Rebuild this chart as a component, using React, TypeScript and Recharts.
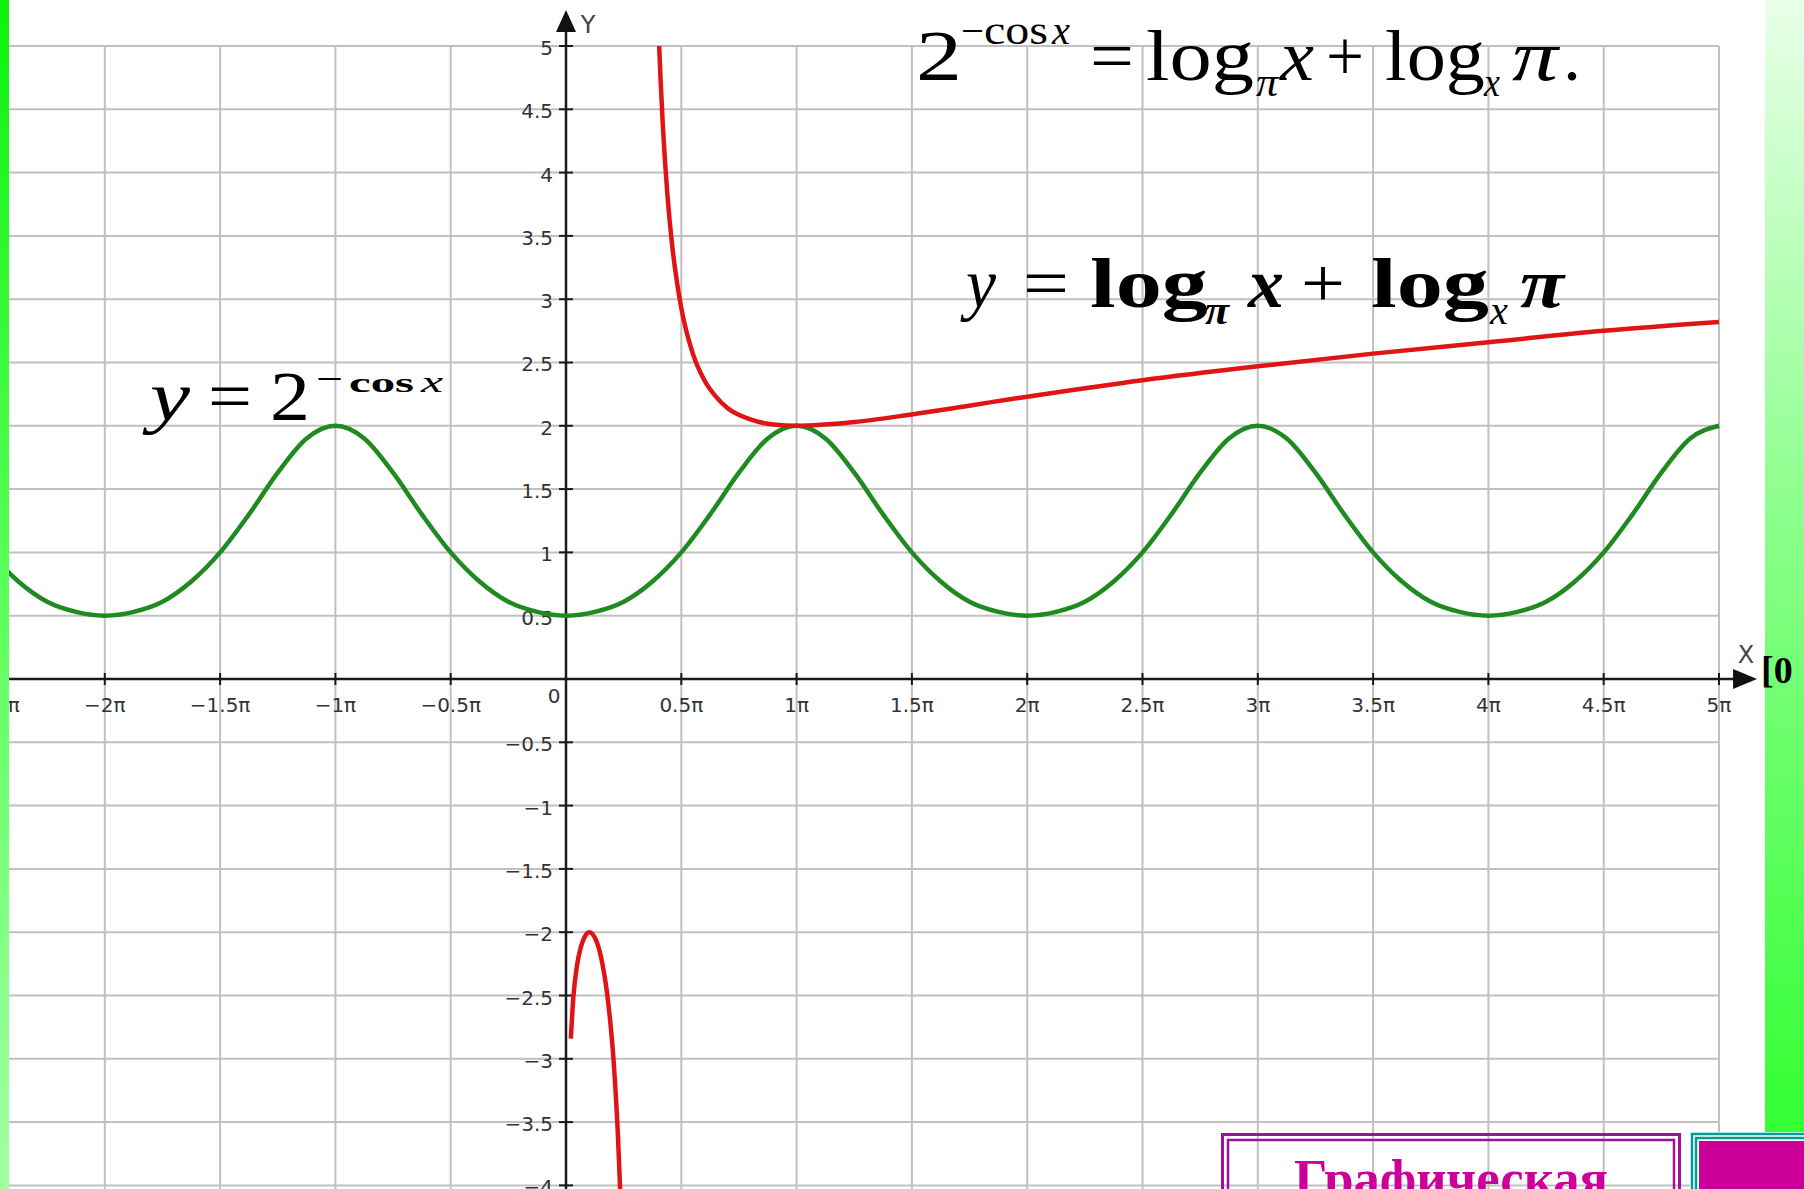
import { LineChart, Line, XAxis, YAxis, ReferenceLine, ReferenceDot } from 'recharts';

// x values are in units of π
const greenX = [
  -2.5, -2.375, -2.25, -2.125, -2, -1.875, -1.75, -1.625, -1.5, -1.375, -1.25, -1.125,
  -1, -0.875, -0.75, -0.625, -0.5, -0.375, -0.25, -0.125, 0, 0.125, 0.25, 0.375,
  0.5, 0.625, 0.75, 0.875, 1, 1.125, 1.25, 1.375, 1.5, 1.625, 1.75, 1.875,
  2, 2.125, 2.25, 2.375, 2.5, 2.625, 2.75, 2.875, 3, 3.125, 3.25, 3.375,
  3.5, 3.625, 3.75, 3.875, 4, 4.125, 4.25, 4.375, 4.5, 4.625, 4.75, 4.875, 5,
];
const greenY = [
  1.0, 0.77, 0.61, 0.53, 0.5, 0.53, 0.61, 0.77, 1.0, 1.3, 1.63, 1.9,
  2.0, 1.9, 1.63, 1.3, 1.0, 0.77, 0.61, 0.53, 0.5, 0.53, 0.61, 0.77,
  1.0, 1.3, 1.63, 1.9, 2.0, 1.9, 1.63, 1.3, 1.0, 0.77, 0.61, 0.53,
  0.5, 0.53, 0.61, 0.77, 1.0, 1.3, 1.63, 1.9, 2.0, 1.9, 1.63, 1.3,
  1.0, 0.77, 0.61, 0.53, 0.5, 0.53, 0.61, 0.77, 1.0, 1.3, 1.63, 1.9, 2.0,
];

const redUpperX = [0.404, 0.41, 0.42, 0.43, 0.44, 0.46, 0.48, 0.5, 0.55, 0.6, 0.65, 0.7, 0.8, 0.9, 1, 1.25, 1.5, 2, 2.5, 3, 3.5, 4, 4.5, 5];
const redUpperY = [5.0, 4.74, 4.37, 4.07, 3.82, 3.43, 3.15, 2.93, 2.57, 2.36, 2.23, 2.14, 2.05, 2.01, 2.0, 2.03, 2.09, 2.23, 2.36, 2.47, 2.57, 2.66, 2.75, 2.82];

const redLowerX = [0.021, 0.032, 0.048, 0.064, 0.08, 0.101, 0.127, 0.143, 0.159, 0.175, 0.191, 0.207, 0.215, 0.223, 0.229, 0.2355];
const redLowerY = [-2.84, -2.51, -2.26, -2.12, -2.04, -2.0, -2.05, -2.13, -2.26, -2.44, -2.69, -3.03, -3.26, -3.52, -3.77, -4.07];

const xTickValues = [-2.5, -2, -1.5, -1, -0.5, 0.5, 1, 1.5, 2, 2.5, 3, 3.5, 4, 4.5, 5];
const xTickLabels = ['−2.5π', '−2π', '−1.5π', '−1π', '−0.5π', '0.5π', '1π', '1.5π', '2π', '2.5π', '3π', '3.5π', '4π', '4.5π', '5π'];
const yTickValues = [5, 4.5, 4, 3.5, 3, 2.5, 2, 1.5, 1, 0.5, -0.5, -1, -1.5, -2, -2.5, -3, -3.5, -4];
const yTickLabels = ['5', '4.5', '4', '3.5', '3', '2.5', '2', '1.5', '1', '0.5', '−0.5', '−1', '−1.5', '−2', '−2.5', '−3', '−3.5', '−4'];

const W = 1804;
const H = 1189;
// visible window of the plane (x in π units)
const X_MIN = -2.4545;
const X_MAX = 5.3686;
const Y_MIN = -4.0284;
const Y_MAX = 5.3633;
const GRID_X_END = 5;
const GRID_Y_END = 5;

const gridColor = '#c0c0c0';
const axisColor = '#1a1a1a';
const labelFont = "'DejaVu Sans', Verdana, sans-serif";
const mathFont = "'Liberation Serif', 'Times New Roman', serif";

const greenData = greenX.map((x, i) => ({ x, y: greenY[i] }));
const redUpperData = redUpperX.map((x, i) => ({ x, y: redUpperY[i] }));
const redLowerData = redLowerX.map((x, i) => ({ x, y: redLowerY[i] }));

const layer: React.CSSProperties = { position: 'absolute', left: 0, top: 0 };

function XTick({ cx, cy, label }: { cx: number; cy: number; label: string }) {
  return (
    <g>
      <line x1={cx} y1={cy - 6} x2={cx} y2={cy + 6} stroke={axisColor} strokeWidth={2} />
      <text x={cx} y={cy + 33} textAnchor="middle" fontSize={20} fill="#333" fontFamily={labelFont}>
        {label}
      </text>
    </g>
  );
}

function YTick({ cx, cy, label }: { cx: number; cy: number; label: string }) {
  return (
    <g>
      <line x1={cx - 7} y1={cy} x2={cx + 7} y2={cy} stroke={axisColor} strokeWidth={2} />
      <text x={cx - 13} y={cy + 9} textAnchor="end" fontSize={20} fill="#333" fontFamily={labelFont}>
        {label}
      </text>
    </g>
  );
}

function Axes() {
  return (
    <>
      <XAxis type="number" dataKey="x" domain={[X_MIN, X_MAX]} allowDataOverflow hide />
      <YAxis type="number" dataKey="y" domain={[Y_MIN, Y_MAX]} allowDataOverflow hide />
    </>
  );
}

function Annotations() {
  return (
    <svg width={W} height={H} style={{ ...layer, pointerEvents: 'none' }}>
      <defs>
        <linearGradient id="leftBar" x1="0" y1="0" x2="0" y2="1">
          <stop offset="0" stopColor="#0df20d" />
          <stop offset="0.5" stopColor="#5cff5c" />
          <stop offset="1" stopColor="#a2ffa2" />
        </linearGradient>
        <linearGradient id="rightBar" x1="0" y1="0" x2="0" y2="1">
          <stop offset="0" stopColor="#e8ffe8" />
          <stop offset="0.45" stopColor="#8cff8c" />
          <stop offset="1" stopColor="#33ff33" />
        </linearGradient>
      </defs>

      {/* top equation */}
      <g fontFamily={mathFont} fill="#000">
        <text x={916} y={80} fontSize={72} textLength={46} lengthAdjust="spacingAndGlyphs">2</text>
        <text x={961} y={44} fontSize={40} textLength={23} lengthAdjust="spacingAndGlyphs">−</text>
        <text x={984} y={44} fontSize={40} textLength={64} lengthAdjust="spacingAndGlyphs">cos</text>
        <text x={1052} y={44} fontSize={40} fontStyle="italic" textLength={18} lengthAdjust="spacingAndGlyphs">x</text>
        <text x={1090} y={80} fontSize={72} textLength={44} lengthAdjust="spacingAndGlyphs">=</text>
        <text x={1146} y={80} fontSize={72} textLength={108} lengthAdjust="spacingAndGlyphs">log</text>
        <text x={1256} y={96} fontSize={40} fontStyle="italic" textLength={22} lengthAdjust="spacingAndGlyphs">π</text>
        <text x={1280} y={80} fontSize={72} fontStyle="italic" textLength={34} lengthAdjust="spacingAndGlyphs">x</text>
        <text x={1326} y={80} fontSize={72} textLength={38} lengthAdjust="spacingAndGlyphs">+</text>
        <text x={1385} y={80} fontSize={72} textLength={100} lengthAdjust="spacingAndGlyphs">log</text>
        <text x={1484} y={96} fontSize={40} fontStyle="italic" textLength={16} lengthAdjust="spacingAndGlyphs">x</text>
        <text x={1512} y={80} fontSize={72} fontStyle="italic" textLength={46} lengthAdjust="spacingAndGlyphs">π</text>
        <text x={1563} y={80} fontSize={72}>.</text>
      </g>

      {/* label of the red curve */}
      <g fontFamily={mathFont} fill="#000">
        <text x={966} y={307} fontSize={70} fontStyle="italic" textLength={30} lengthAdjust="spacingAndGlyphs">y</text>
        <text x={1023} y={307} fontSize={70} textLength={46} lengthAdjust="spacingAndGlyphs">=</text>
        <text x={1090} y={307} fontSize={70} fontWeight="bold" textLength={118} lengthAdjust="spacingAndGlyphs">log</text>
        <text x={1205} y={324} fontSize={40} fontWeight="bold" fontStyle="italic" textLength={24} lengthAdjust="spacingAndGlyphs">π</text>
        <text x={1248} y={307} fontSize={70} fontWeight="bold" fontStyle="italic" textLength={36} lengthAdjust="spacingAndGlyphs">x</text>
        <text x={1301} y={307} fontSize={70} textLength={44} lengthAdjust="spacingAndGlyphs">+</text>
        <text x={1371} y={307} fontSize={70} fontWeight="bold" textLength={118} lengthAdjust="spacingAndGlyphs">log</text>
        <text x={1490} y={324} fontSize={40} fontStyle="italic" textLength={18} lengthAdjust="spacingAndGlyphs">x</text>
        <text x={1520} y={307} fontSize={70} fontWeight="bold" fontStyle="italic" textLength={44} lengthAdjust="spacingAndGlyphs">π</text>
      </g>

      {/* label of the green curve */}
      <g fontFamily={mathFont} fill="#000">
        <text x={150} y={420} fontSize={70} fontStyle="italic" textLength={40} lengthAdjust="spacingAndGlyphs">y</text>
        <text x={208} y={420} fontSize={70} textLength={44} lengthAdjust="spacingAndGlyphs">=</text>
        <text x={270} y={420} fontSize={70} textLength={40} lengthAdjust="spacingAndGlyphs">2</text>
        <text x={316} y={392} fontSize={40} textLength={27} lengthAdjust="spacingAndGlyphs">−</text>
        <text x={349} y={392} fontSize={28} fontWeight="bold" textLength={65} lengthAdjust="spacingAndGlyphs">cos</text>
        <text x={421} y={392} fontSize={30} fontStyle="italic" textLength={22} lengthAdjust="spacingAndGlyphs">x</text>
      </g>

      {/* side panels */}
      <rect x={0} y={0} width={9} height={H} fill="url(#leftBar)" />
      <rect x={1765} y={0} width={W - 1765} height={1133} fill="url(#rightBar)" />
      <text x={1761} y={683} fontFamily={mathFont} fontWeight="bold" fontSize={38} fill="#000">[0</text>

      {/* navigation boxes */}
      <rect x={1222.5} y={1134.5} width={457} height={120} fill="none" stroke="#a0109f" strokeWidth={3} />
      <rect x={1228} y={1140} width={446} height={120} fill="none" stroke="#a0109f" strokeWidth={2.5} />
      <text x={1451} y={1196} textAnchor="middle" fontFamily={mathFont} fontWeight="bold" fontSize={52} fill="#cc0099" textLength={314} lengthAdjust="spacingAndGlyphs">
        Графическая
      </text>
      <rect x={1690} y={1132} width={W - 1690} height={H - 1132} fill="#ffffff" />
      <rect x={1692} y={1134} width={200} height={120} fill="none" stroke="#009c9c" strokeWidth={2.5} />
      <rect x={1696} y={1138} width={200} height={120} fill="none" stroke="#009c9c" strokeWidth={2.5} />
      <rect x={1699} y={1141} width={W - 1699} height={H - 1141} fill="#cc0099" />
    </svg>
  );
}

export default function App() {
  return (
    <div style={{ position: 'fixed', left: 0, top: 0, width: W, height: H, background: '#ffffff', overflow: 'hidden' }}>
      {/* grid, axes and tick labels */}
      <div style={layer}>
        <LineChart width={W} height={H} margin={{ top: 0, right: 0, bottom: 0, left: 0 }}>
          {Axes()}
          {xTickValues.map(v => (
            <ReferenceLine
              key={'gx' + v}
              segment={[{ x: v, y: Y_MIN }, { x: v, y: GRID_Y_END }]}
              stroke={gridColor}
              strokeWidth={2}
              ifOverflow="visible"
            />
          ))}
          {yTickValues.map(v => (
            <ReferenceLine
              key={'gy' + v}
              segment={[{ x: X_MIN, y: v }, { x: GRID_X_END, y: v }]}
              stroke={gridColor}
              strokeWidth={2}
              ifOverflow="visible"
            />
          ))}
          <ReferenceLine segment={[{ x: X_MIN, y: 0 }, { x: 5.07, y: 0 }]} stroke={axisColor} strokeWidth={2.5} ifOverflow="visible" />
          <ReferenceLine segment={[{ x: 0, y: Y_MIN }, { x: 0, y: 5.12 }]} stroke={axisColor} strokeWidth={2.5} ifOverflow="visible" />
          {xTickValues.map((v, i) => (
            <ReferenceDot
              key={'xt' + v}
              x={v}
              y={0}
              r={0}
              ifOverflow="visible"
              shape={(p: any) => <XTick cx={p.cx} cy={p.cy} label={xTickLabels[i]} />}
            />
          ))}
          {yTickValues.map((v, i) => (
            <ReferenceDot
              key={'yt' + v}
              x={0}
              y={v}
              r={0}
              ifOverflow="visible"
              shape={(p: any) => <YTick cx={p.cx} cy={p.cy} label={yTickLabels[i]} />}
            />
          ))}
          <ReferenceDot
            x={0}
            y={0}
            r={0}
            ifOverflow="visible"
            shape={(p: any) => (
              <text x={p.cx - 12} y={p.cy + 24} textAnchor="middle" fontSize={20} fill="#333" fontFamily={labelFont}>0</text>
            )}
          />
          <ReferenceDot
            x={5.165}
            y={0}
            r={0}
            ifOverflow="visible"
            shape={(p: any) => (
              <g>
                <polygon points={`${p.cx},${p.cy} ${p.cx - 24},${p.cy - 10} ${p.cx - 24},${p.cy + 10}`} fill="#111" />
                <text x={p.cx - 11} y={p.cy - 16} textAnchor="middle" fontSize={24} fill="#444" fontFamily={labelFont}>X</text>
              </g>
            )}
          />
          <ReferenceDot
            x={0}
            y={5.284}
            r={0}
            ifOverflow="visible"
            shape={(p: any) => (
              <g>
                <polygon points={`${p.cx},${p.cy} ${p.cx - 10},${p.cy + 22} ${p.cx + 10},${p.cy + 22}`} fill="#111" />
                <text x={p.cx + 22} y={p.cy + 23} textAnchor="middle" fontSize={24} fill="#444" fontFamily={labelFont}>Y</text>
              </g>
            )}
          />
        </LineChart>
      </div>

      {/* the two functions */}
      <div style={layer}>
        <LineChart width={W} height={H} margin={{ top: 0, right: 0, bottom: 0, left: 0 }}>
          {Axes()}
          <Line data={greenData} dataKey="y" type="monotone" stroke="#1f8a1f" strokeWidth={4.5} dot={false} activeDot={false} isAnimationActive={false} />
          <Line data={redUpperData} dataKey="y" type="monotone" stroke="#e01414" strokeWidth={4.5} dot={false} activeDot={false} isAnimationActive={false} />
          <Line data={redLowerData} dataKey="y" type="monotone" stroke="#e01414" strokeWidth={4.5} dot={false} activeDot={false} isAnimationActive={false} />
        </LineChart>
      </div>

      <Annotations />
    </div>
  );
}
